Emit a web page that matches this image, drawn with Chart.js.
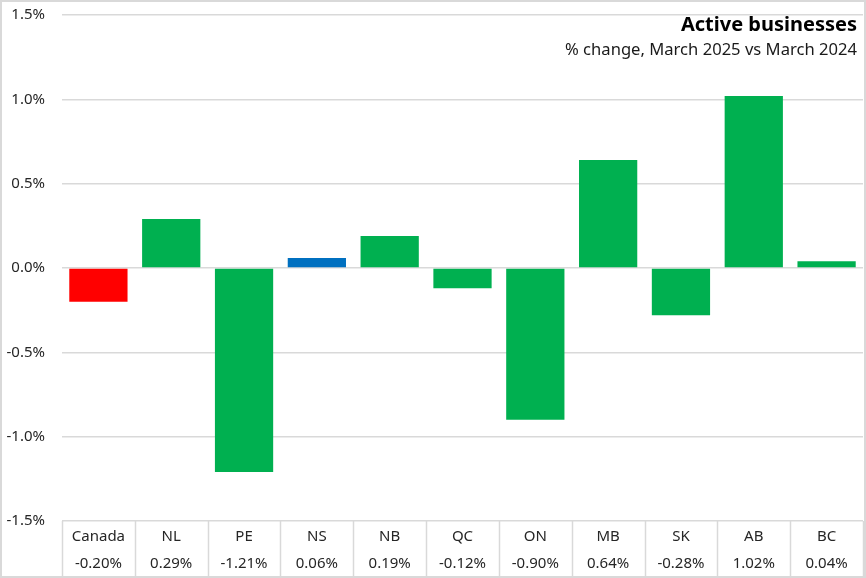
<!DOCTYPE html>
<html>
<head>
<meta charset="utf-8">
<script src="https://cdn.jsdelivr.net/npm/chart.js@4.4.1/dist/chart.umd.min.js"></script>
<style>
  body { margin: 0; background: #fff; }
  #wrap { position: relative; width: 866px; height: 578px; box-sizing: border-box; border: 2px solid #d9d9d9; }
  #box { width: 862px; height: 574px; }
  canvas { display: block; }
  .title { position: absolute; right: 7px; top: 11px; font: bold 20px "Noto Sans", sans-serif; line-height: 22px; color: #000; }
  .sub { position: absolute; right: 7px; top: 36px; font: 16.6px "Noto Sans", sans-serif; line-height: 21px; color: #1a1a1a; }
</style>
</head>
<body>
<div id="wrap">
  <div id="box"><canvas id="chart"></canvas></div>
  <div class="title">Active businesses</div>
  <div class="sub">% change, March 2025 vs March 2024</div>
</div>
<script>
// ========== DATA ==========
const regions = ["Canada", "NL", "PE", "NS", "NB", "QC", "ON", "MB", "SK", "AB", "BC"];
const changes = [-0.20, 0.29, -1.21, 0.06, 0.19, -0.12, -0.90, 0.64, -0.28, 1.02, 0.04];
const yTicks = [-1.5, -1.0, -0.5, 0.0, 0.5, 1.0, 1.5];

// ========== COLOURS ==========
const GRID = "#d9d9d9";
const barColors = regions.map((r) => (r === "Canada" ? "#ff0000" : r === "NS" ? "#0070c0" : "#00b050"));

// ========== TABLE LINES UNDER THE AXIS ==========
const tableLines = {
  id: "tableLines",
  afterDraw(chart) {
    const x = chart.scales.x;
    const ctx = chart.ctx;
    const half = (x.getPixelForValue(1) - x.getPixelForValue(0)) / 2;
    ctx.save();
    ctx.strokeStyle = GRID;
    ctx.lineWidth = 1.5;
    ctx.beginPath();
    for (let i = 0; i <= regions.length; i++) {
      const px = Math.round(x.getPixelForValue(i) - half) + 0.5;
      ctx.moveTo(px, chart.chartArea.bottom);
      ctx.lineTo(px, chart.height);
    }
    ctx.stroke();
    ctx.restore();
  },
};

new Chart(document.getElementById("chart"), {
  type: "bar",
  data: {
    labels: regions,
    datasets: [
      {
        data: changes,
        backgroundColor: barColors,
        categoryPercentage: 0.8,
        barPercentage: 1,
      },
    ],
  },
  options: {
    responsive: true,
    maintainAspectRatio: false,
    animation: false,
    layout: { padding: { top: 13, right: 1, left: 0, bottom: 0 } },
    plugins: { legend: { display: false }, tooltip: { enabled: false } },
    scales: {
      x: {
        grid: { display: false },
        border: { display: false },
        afterFit: (s) => { s.height = 55; },
        ticks: {
          padding: -6,
          color: "#262626",
          font: { family: "Noto Sans", size: 15, lineHeight: 1.8 },
          maxRotation: 0,
          autoSkip: false,
          callback: (v, i) => [regions[i], changes[i].toFixed(2) + "%"],
        },
      },
      y: {
        min: yTicks[0],
        max: yTicks[yTicks.length - 1],
        afterBuildTicks: (s) => { s.ticks = yTicks.map((v) => ({ value: v })); },
        afterFit: (s) => {
          s.width = 60;
          s.paddingTop = 0;
          s.paddingBottom = 0;
        },
        grid: { color: GRID, lineWidth: 1.5, drawTicks: false },
        border: { display: false },
        ticks: {
          padding: 17,
          color: "#262626",
          font: { family: "Noto Sans", size: 15 },
          callback: (v) => v.toFixed(1) + "%",
        },
      },
    },
  },
  plugins: [tableLines],
});
</script>
</body>
</html>
